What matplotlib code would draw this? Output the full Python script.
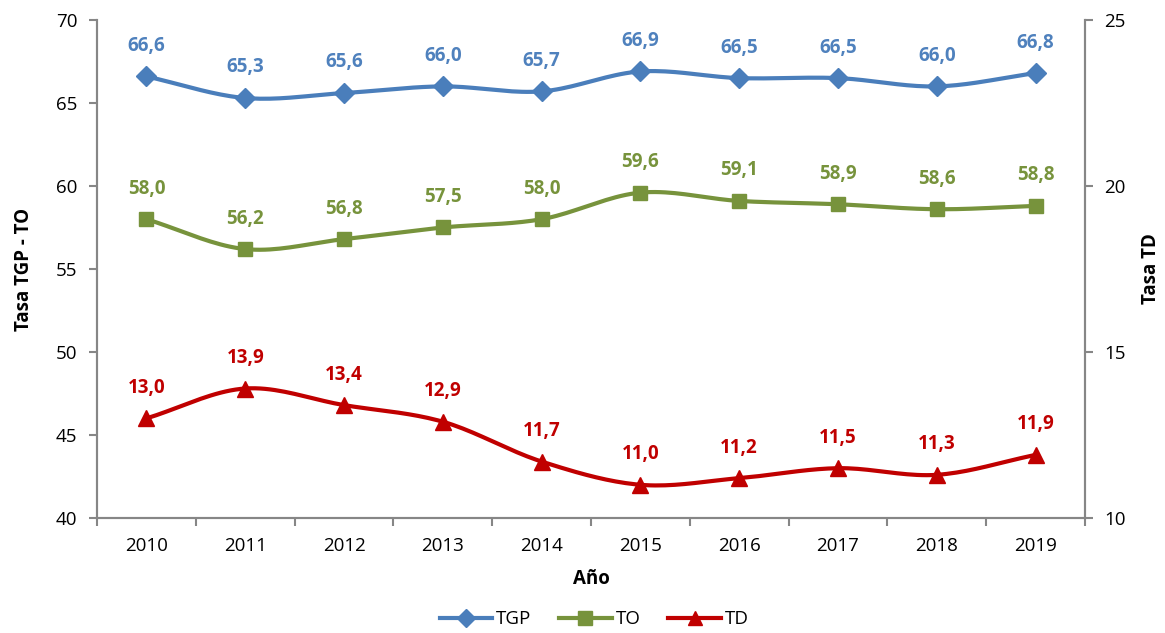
import matplotlib
matplotlib.use('Agg')
import matplotlib.pyplot as plt
import numpy as np

years = ['2010', '2011', '2012', '2013', '2014', '2015', '2016', '2017', '2018', '2019']
tgp = [66.6, 65.3, 65.6, 66.0, 65.7, 66.9, 66.5, 66.5, 66.0, 66.8]
to = [58.0, 56.2, 56.8, 57.5, 58.0, 59.6, 59.1, 58.9, 58.6, 58.8]
td = [13.0, 13.9, 13.4, 12.9, 11.7, 11.0, 11.2, 11.5, 11.3, 11.9]

plt.rcParams['font.family'] = ['Open Sans', 'DejaVu Sans']


def smooth(x, y, steps=20):
  # Catmull-Rom curve through the points, like Excel's smoothed line
  x = np.asarray(x, float)
  y = np.asarray(y, float)
  px = np.concatenate([[2 * x[0] - x[1]], x, [2 * x[-1] - x[-2]]])
  py = np.concatenate([[2 * y[0] - y[1]], y, [2 * y[-1] - y[-2]]])
  xs, ys = [], []
  t = np.linspace(0, 1, steps, endpoint=False)
  for i in range(1, len(px) - 2):
    for p, out in ((px, xs), (py, ys)):
      p0, p1, p2, p3 = p[i - 1], p[i], p[i + 1], p[i + 2]
      out.extend(0.5 * (2 * p1 + (-p0 + p2) * t
                        + (2 * p0 - 5 * p1 + 4 * p2 - p3) * t ** 2
                        + (-p0 + 3 * p1 - 3 * p2 + p3) * t ** 3))
  xs.append(x[-1])
  ys.append(y[-1])
  return np.array(xs), np.array(ys)


fig = plt.figure(figsize=(11.65, 6.33), dpi=100)
ax = fig.add_axes([0.0833, 0.1817, 0.848, 0.7867])
ax2 = ax.twinx()

x = np.arange(len(years))
axis_grey = '#868686'
fs = 13.5

series = [
  (ax, tgp, '#4A7EBB', '#4F81BD', 'D', 10, 'TGP'),
  (ax, to, '#77933C', '#77933C', 's', 10.5, 'TO'),
  (ax2, td, '#C00000', '#C00000', '^', 11, 'TD'),
]
handles = []
for a, vals, color, lcolor, marker, ms, name in series:
  sx, sy = smooth(x, vals)
  a.plot(sx, sy, color=color, lw=3, solid_capstyle='round', zorder=3)
  a.plot(x, vals, linestyle='none', marker=marker, ms=ms, color=color, zorder=4)
  h, = ax.plot([], [], color=color, lw=3, marker=marker, ms=ms - 1)
  handles.append(h)
  for xi, v in zip(x, vals):
    a.annotate(f'{v:.1f}'.replace('.', ','), (xi, v), xytext=(0, 22),
               textcoords='offset points', ha='center', va='center',
               fontsize=fs, fontweight='bold', color=lcolor)

ax.set_xlim(-0.5, len(years) - 0.5)
ax.set_ylim(40, 70)
ax2.set_ylim(10, 25)
ax.set_yticks(np.arange(40, 71, 5))
ax2.set_yticks(np.arange(10, 26, 5))
ax.set_xticks(x)
ax.set_xticklabels(years)
ax.set_xticks(np.arange(-0.5, len(years), 1), minor=True)
ax.tick_params(axis='x', which='major', length=0, pad=14, labelsize=fs)
ax.tick_params(axis='x', which='minor', length=6, width=1.5, color=axis_grey)
ax.tick_params(axis='y', length=6, width=1.5, color=axis_grey, labelsize=fs, pad=8)
ax2.tick_params(axis='y', length=6, width=1.5, color=axis_grey, labelsize=fs, pad=8)

for a in (ax, ax2):
  a.spines['top'].set_visible(False)
  for s in ('left', 'right', 'bottom'):
    a.spines[s].set_color(axis_grey)
    a.spines[s].set_linewidth(1.5)

ax.set_xlabel('Año', fontsize=fs, fontweight='bold', labelpad=10)
ax.set_ylabel('Tasa TGP - TO', fontsize=fs, fontweight='bold', labelpad=16)
ax2.set_ylabel('Tasa TD', fontsize=fs, fontweight='bold', labelpad=11)

fig.legend(handles, ['TGP', 'TO', 'TD'], loc='center', bbox_to_anchor=(0.51, 0.022),
           ncol=3, frameon=False, fontsize=fs, handlelength=2.8, columnspacing=1.5,
           handletextpad=0.2)

fig.savefig('out.png', dpi=100)
